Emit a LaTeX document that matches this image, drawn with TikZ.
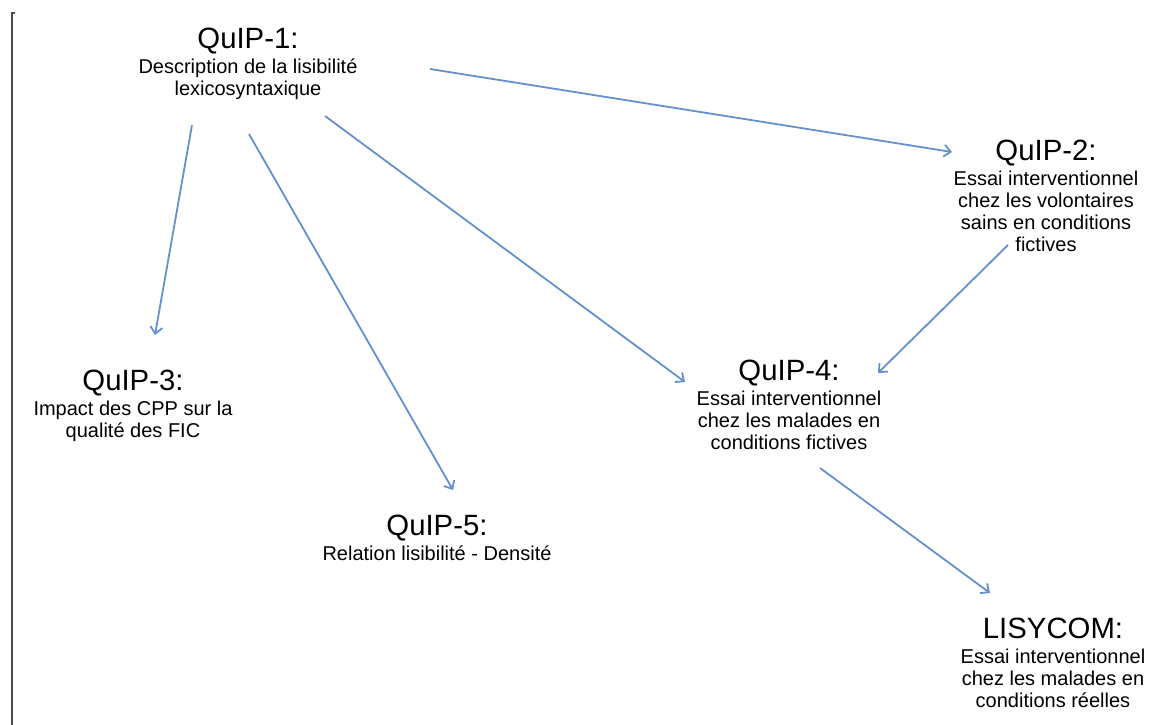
\documentclass[tikz,border=0pt]{standalone}
\usepackage{fontspec}
\setmainfont{Liberation Sans}
\usetikzlibrary{arrows.meta}
\definecolor{fleche}{RGB}{100,145,205}
\newcommand{\titre}[1]{{\fontsize{22}{24}\selectfont #1}}

\begin{document}
\begin{tikzpicture}[x=0.75pt, y=-0.75pt,
    etude/.style={align=center, inner sep=0pt, anchor=north,
      font=\fontsize{15}{16.5}\selectfont},
    lien/.style={draw=fleche, line width=1.35pt,
      -{Straight Barb[length=5pt,width=9pt]}}]
  \useasboundingbox (0,0) rectangle (1168,725);

  % Trait vertical a gauche
  \draw[black!70, line width=1.6pt] (15,13) -- (12,13) -- (12,725);

  % Etudes
  \node[etude] (q1) at (248,28) {\titre{QuIP-1:}\\[2pt]
    Description de la lisibilité\\ lexicosyntaxique};
  \node[etude] (q2) at (1046,140) {\titre{QuIP-2:}\\[2pt]
    Essai interventionnel\\ chez les volontaires\\ sains en conditions\\ fictives};
  \node[etude] (q3) at (133,370) {\titre{QuIP-3:}\\[2pt]
    Impact des CPP sur la\\ qualité des FIC};
  \node[etude] (q4) at (789,360) {\titre{QuIP-4:}\\[2pt]
    Essai interventionnel\\ chez les malades en\\ conditions fictives};
  \node[etude] (q5) at (437,515) {\titre{QuIP-5:}\\[2pt]
    Relation lisibilité - Densité};
  \node[etude] (lisycom) at (1053,618) {\titre{LISYCOM:}\\[2pt]
    Essai interventionnel\\ chez les malades en\\ conditions réelles};

  % Liens entre etudes
  \draw[lien] ([shift={(182,41)}]q1.north) -- ([shift={(-94,12)}]q2.north);
  \draw[lien] ([shift={(-56,97)}]q1.north) -- ([shift={(22,-35)}]q3.north);
  \draw[lien] ([shift={(1,106)}]q1.north) -- ([shift={(16,-25)}]q5.north);
  \draw[lien] ([shift={(77,88)}]q1.north) -- ([shift={(-104,22)}]q4.north);
  \draw[lien] ([shift={(-38,105)}]q2.north) -- ([shift={(89,13)}]q4.north);
  \draw[lien] ([shift={(31,108)}]q4.north) -- ([shift={(-63,-25)}]lisycom.north);
\end{tikzpicture}
\end{document}
